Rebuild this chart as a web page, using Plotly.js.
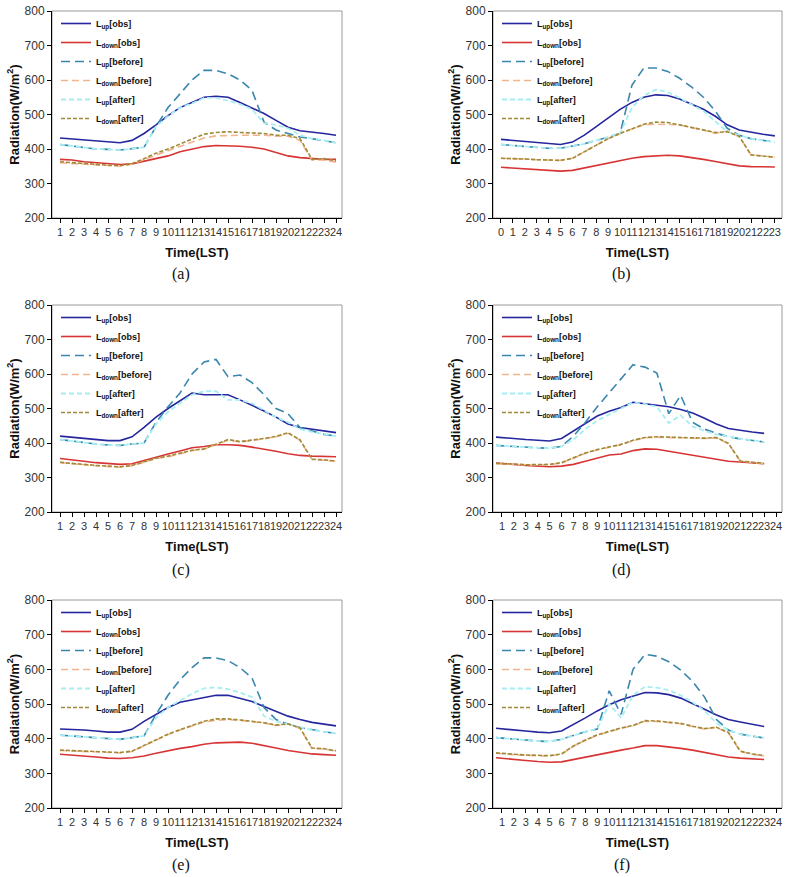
<!DOCTYPE html>
<html>
<head>
<meta charset="utf-8">
<script src="https://cdn.plot.ly/plotly-3.0.1.min.js"></script>
<style>html,body{margin:0;padding:0;background:#fff;}#chart{width:789px;height:877px;}</style>
</head>
<body>
<div id="chart"></div>
<script>
// ---- hours (x positions) ----
const hoursA = [1,2,3,4,5,6,7,8,9,10,11,12,13,14,15,16,17,18,19,20,21,22,23,24];
const hoursB = [0,1,2,3,4,5,6,7,8,9,10,11,12,13,14,15,16,17,18,19,20,21,22,23];
const hoursD = [0.5,1,2,3,4,5,6,7,8,9,10,11,12,13,14,15,16,17,18,19,20,21,22,23];
const ticksA = [1,2,3,4,5,6,7,8,9,10,11,12,13,14,15,16,17,18,19,20,21,22,23,24];
const ticksB = [0,1,2,3,4,5,6,7,8,9,10,11,12,13,14,15,16,17,18,19,20,21,22,23];

// ---- panel (a) ----
const a_upObs      = [432,429,426,423,419,418,425,445,470,497,520,535,550,553,550,535,520,503,483,463,453,450,445,440];
const a_downObs    = [370,368,363,360,356,355,357,365,372,380,392,400,407,410,410,408,405,400,390,380,375,372,370,370];
const a_upBefore   = [413,408,403,400,399,397,401,405,465,520,560,600,628,628,618,600,570,478,455,445,435,430,425,418];
const a_downBefore = [360,358,356,353,350,350,356,368,382,395,408,420,432,438,440,440,440,440,437,437,425,368,368,362];
const a_upAfter    = [413,408,403,400,399,397,401,405,465,495,520,532,548,548,540,530,515,475,470,460,440,430,425,418];
const a_downAfter  = [363,360,358,355,353,352,357,372,388,400,415,430,443,448,450,448,447,445,440,440,430,370,372,366];

// ---- panel (b) ----
const b_upObs      = [428,425,422,418,415,413,420,440,465,490,515,535,550,557,555,545,530,515,495,470,455,448,443,438];
const b_downObs    = [347,345,342,339,337,336,338,345,352,360,366,373,378,380,382,380,376,370,364,357,351,349,348,348];
const b_upBefore   = [413,410,407,404,402,402,408,415,425,435,445,585,635,635,625,605,580,550,510,460,440,430,425,420];
const b_downBefore = [373,373,371,369,368,367,373,392,412,430,445,458,470,472,472,470,462,455,445,452,437,383,380,376];
const b_upAfter    = [413,410,407,404,402,402,408,415,425,435,445,520,555,572,565,548,530,510,480,450,440,430,425,420];
const b_downAfter  = [373,373,371,369,368,367,373,392,412,430,445,458,472,478,477,470,462,455,448,450,437,383,380,376];

// ---- panel (c) ----
const c_upObs      = [420,417,413,410,407,407,418,445,475,500,522,545,540,540,540,525,510,493,475,455,445,440,435,430];
const c_downObs    = [355,352,347,343,341,338,340,350,360,368,377,386,390,395,395,393,388,383,376,369,364,362,361,360];
const c_upBefore   = [410,405,400,397,394,393,397,400,460,505,545,600,635,642,592,597,575,540,500,485,445,435,425,420];
const c_downBefore = [343,341,337,334,332,330,334,345,355,360,370,378,382,395,408,403,407,412,418,428,408,352,350,347];
const c_upAfter    = [410,405,400,397,394,393,397,400,455,490,515,540,550,550,525,525,515,495,475,460,440,432,425,420];
const c_downAfter  = [344,342,338,335,333,331,335,346,356,362,371,379,383,396,410,404,408,413,419,430,409,353,351,348];

// ---- panel (d) ----
const d_upObs      = [417,415,413,410,408,406,413,435,458,478,492,503,518,513,508,505,497,487,472,455,442,436,432,428];
const d_downObs    = [342,340,338,335,333,331,333,338,347,357,365,368,378,383,382,376,370,365,360,353,347,345,342,340];
const d_upBefore   = [393,392,389,386,386,385,390,420,460,505,545,585,627,620,603,485,538,460,440,428,418,412,408,403];
const d_downBefore = [340,340,338,336,337,337,342,357,370,380,388,395,407,415,417,416,413,412,413,415,398,347,343,340];
const d_upAfter    = [393,392,389,386,386,385,390,410,440,465,482,500,518,513,505,458,480,448,435,425,418,412,408,403];
const d_downAfter  = [341,341,339,337,338,338,343,358,371,381,389,396,408,416,418,417,414,413,414,416,399,348,344,341];

// ---- panel (e) ----
const e_upObs      = [428,427,425,422,419,419,427,450,470,490,505,512,518,525,525,517,507,493,478,465,455,447,442,437];
const e_downObs    = [355,353,350,347,344,343,345,350,358,366,372,377,384,388,390,390,387,381,373,366,360,356,354,352];
const e_upBefore   = [410,408,406,404,400,398,403,408,470,525,570,605,633,633,625,605,575,490,455,442,432,425,420,415];
const e_downBefore = [366,365,364,363,360,359,363,380,397,412,425,437,448,453,455,453,450,445,438,442,430,372,370,364];
const e_upAfter    = [410,408,406,404,400,398,403,408,460,490,510,530,545,548,543,533,520,465,450,442,432,425,420,415];
const e_downAfter  = [367,366,365,364,361,360,364,381,398,413,426,438,450,457,457,454,451,446,439,443,431,373,371,365];

// ---- panel (f) ----
const f_upObs      = [430,428,425,422,419,417,422,440,460,480,498,512,523,533,532,527,517,502,485,468,455,448,442,435];
const f_downObs    = [345,343,340,337,334,332,333,340,347,355,362,367,373,380,380,377,372,367,360,353,347,344,342,340];
const f_upBefore   = [403,402,398,396,393,392,398,410,420,428,538,470,600,643,638,622,598,565,520,455,425,413,408,402];
const f_downBefore = [358,356,354,352,350,350,355,378,395,410,420,430,437,450,450,447,443,435,428,432,417,363,355,350];
const f_upAfter    = [403,402,398,396,393,392,398,410,420,428,500,460,525,550,547,540,525,505,480,445,425,413,408,402];
const f_downAfter  = [359,357,355,353,351,351,356,379,396,411,421,431,438,452,451,448,444,436,429,433,418,364,356,351];

const seriesNames = ['L<sub>up</sub>[obs]','L<sub>down</sub>[obs]','L<sub>up</sub>[before]','L<sub>down</sub>[before]','L<sub>up</sub>[after]','L<sub>down</sub>[after]'];
const panelLabels = ['(a)','(b)','(c)','(d)','(e)','(f)'];

// ---- styles ----
const lineStyles = [
  {color:'#26269e', width:1.6, dash:'solid'},
  {color:'#d83434', width:1.6, dash:'solid'},
  {color:'#3a86ae', width:1.6, dash:'9px,5px'},
  {color:'#f2b48c', width:1.6, dash:'7px,4px'},
  {color:'#a6eef2', width:1.8, dash:'5px,3px'},
  {color:'#a08a36', width:1.6, dash:'4px,2px'}
];

const panels = [
  {x:hoursA, s:[a_upObs,a_downObs,a_upBefore,a_downBefore,a_upAfter,a_downAfter], ticks:ticksA, range:[0.33,24.5]},
  {x:hoursB, s:[b_upObs,b_downObs,b_upBefore,b_downBefore,b_upAfter,b_downAfter], ticks:ticksB, range:[-0.67,23.6]},
  {x:hoursA, s:[c_upObs,c_downObs,c_upBefore,c_downBefore,c_upAfter,c_downAfter], ticks:ticksA, range:[0.33,24.5]},
  {x:hoursD, s:[d_upObs,d_downObs,d_upBefore,d_downBefore,d_upAfter,d_downAfter], ticks:ticksA, range:[0.25,24.5]},
  {x:hoursA, s:[e_upObs,e_downObs,e_upBefore,e_downBefore,e_upAfter,e_downAfter], ticks:ticksA, range:[0.33,24.5]},
  {x:hoursD, s:[f_upObs,f_downObs,f_upBefore,f_downBefore,f_upAfter,f_downAfter], ticks:ticksA, range:[0.25,24.5]}
];

const W = 789, H = 877;
const colX = [[52,342],[493,782]];
const rowY = [[11,218],[305,512],[600,808]];
const captionY = [274,570,865];

const traces = [];
const layout = {
  width:W, height:H,
  margin:{l:0,r:0,t:0,b:0},
  paper_bgcolor:'#ffffff', plot_bgcolor:'#ffffff',
  font:{family:'Arial, Liberation Sans, sans-serif', color:'#222'},
  shapes:[], annotations:[]
};

panels.forEach((p, i) => {
  const col = i % 2, row = Math.floor(i / 2);
  const n = i + 1;
  const xa = n === 1 ? 'x' : 'x' + n, ya = n === 1 ? 'y' : 'y' + n;
  const xkey = n === 1 ? 'xaxis' : 'xaxis' + n, ykey = n === 1 ? 'yaxis' : 'yaxis' + n;
  const lkey = n === 1 ? 'legend' : 'legend' + n;
  const x0 = colX[col][0] / W, x1 = colX[col][1] / W;
  const y0 = 1 - rowY[row][1] / H, y1 = 1 - rowY[row][0] / H;

  p.s.forEach((vals, k) => {
    traces.push({
      type:'scatter', mode:'lines', x:p.x, y:vals,
      name:seriesNames[k], xaxis:xa, yaxis:ya, legend:lkey,
      line:Object.assign({}, lineStyles[k]), hoverinfo:'skip'
    });
  });

  layout[xkey] = {
    domain:[x0,x1], anchor:ya, range:p.range,
    tickmode:'array', tickvals:p.ticks, ticktext:p.ticks.map(String),
    tickangle:0,
    ticks:'outside', ticklen:4, tickcolor:'#000', tickwidth:1,
    showline:true, linecolor:'#000', linewidth:1,
    showgrid:false, zeroline:false,
    tickfont:{size:11, color:'#333', family:'Arial, Liberation Sans, sans-serif'},
    title:{text:'Time(LST)', font:{size:13, weight:'bold', color:'#111'}, standoff:10}
  };
  layout[ykey] = {
    domain:[y0,y1], anchor:xa, range:[200,800],
    tickvals:[200,300,400,500,600,700,800],
    ticks:'outside', ticklen:4, tickcolor:'#000', tickwidth:1,
    showline:true, linecolor:'#000', linewidth:1,
    showgrid:false, zeroline:false,
    tickfont:{size:12, color:'#333', family:'Arial, Liberation Sans, sans-serif'},
    title:{text:'Radiation(W/m<sup>2</sup>)', font:{size:13, weight:'bold', color:'#111'}, standoff:2}
  };
  layout[lkey] = {
    x:x0 + 4 / W, y:y1 + 2 / H, xanchor:'left', yanchor:'top',
    xref:'paper', yref:'paper',
    bgcolor:'rgba(0,0,0,0)', borderwidth:0,
    font:{size:9, weight:'bold', color:'#111'},
    itemwidth:30, tracegroupgap:0
  };
  // gray frame (top/right)
  layout.shapes.push({
    type:'rect', xref:xa + ' domain', yref:ya + ' domain',
    x0:0, x1:1, y0:0, y1:1, line:{color:'#9a9a9a', width:1}, layer:'below'
  });
  layout.annotations.push({
    text:panelLabels[i], xref:'paper', yref:'paper', showarrow:false,
    x:(colX[col][0] + colX[col][1]) / 2 / W - 16 / W, y:1 - captionY[row] / H,
    xanchor:'center', yanchor:'middle',
    font:{family:'Liberation Serif, Times New Roman, serif', size:16, color:'#111'}
  });
});

Plotly.newPlot('chart', traces, layout, {displayModeBar:false, staticPlot:true});
</script>
</body>
</html>
